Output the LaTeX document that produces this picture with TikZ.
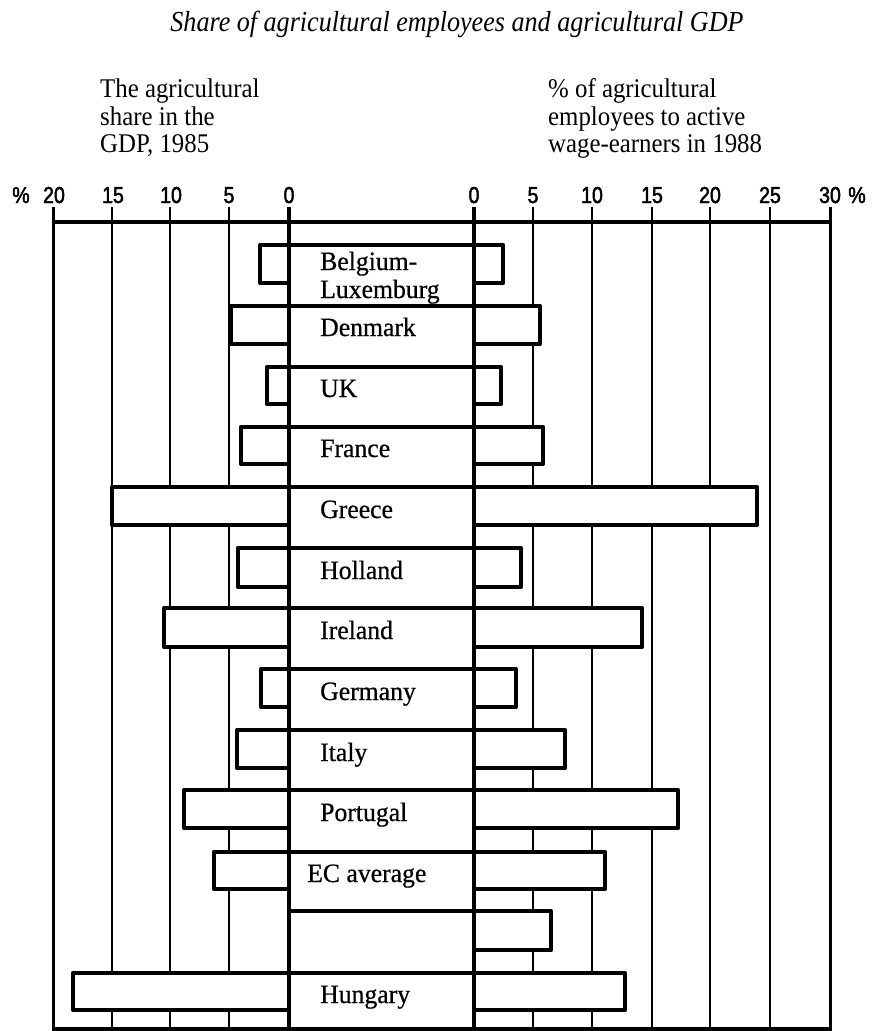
\documentclass[tikz,border=0pt]{standalone}
\usepackage{fontspec}
\setmainfont{Liberation Serif}
\newfontfamily\axisfont[FakeStretch=0.85,FakeBold=2]{Liberation Sans}
\newfontfamily\headfont[FakeStretch=0.92]{Liberation Serif}
\newfontfamily\titlefont[FakeStretch=0.9]{Liberation Serif}
\newfontfamily\labfont[FakeStretch=0.97,FakeBold=0.6]{Liberation Serif}
\begin{document}
\begin{tikzpicture}[x=1pt,y=-1pt,
  gridline/.style={line width=2pt},
  zeroline/.style={line width=4pt},
  axisline/.style={line width=4pt},
  barline/.style={line width=4.5pt,line join=round},
  ticklab/.style={anchor=base,inner sep=0pt,font=\axisfont\fontsize{23}{23}\selectfont},
  headtxt/.style={anchor=base west,inner sep=0pt,font=\headfont\fontsize{27}{27}\selectfont},
  titletxt/.style={anchor=base,inner sep=0pt,font=\titlefont\itshape\fontsize{29}{29}\selectfont},
  bartxt/.style={anchor=base west,inner sep=0pt,font=\labfont\fontsize{26.5}{26.5}\selectfont}]
\useasboundingbox (0,0) rectangle (875,1031);
% title
\node[titletxt] (title) at (457,31) {Share of agricultural employees and agricultural GDP};
% headers
\node[headtxt] (lh1) at (100,97) {The agricultural};
\node[headtxt] (lh2) at (100,125) {share in the};
\node[headtxt] (lh3) at (100,152) {GDP, 1985};
\node[headtxt] (rh1) at (548,97) {\% of agricultural};
\node[headtxt] (rh2) at (548,125) {employees to active};
\node[headtxt] (rh3) at (548,152) {wage-earners in 1988};
% axis labels
\node[ticklab] (pl) at (21,203) {\%};
\node[ticklab] (l20) at (54,203) {20};
\node[ticklab] (l15) at (113,203) {15};
\node[ticklab] (l10) at (171,203) {10};
\node[ticklab] (l5) at (229,203) {5};
\node[ticklab] (l0) at (289,203) {0};
\node[ticklab] (r0) at (474,203) {0};
\node[ticklab] (r5) at (533,203) {5};
\node[ticklab] (r10) at (592,203) {10};
\node[ticklab] (r15) at (652,203) {15};
\node[ticklab] (r20) at (710,203) {20};
\node[ticklab] (r25) at (770,203) {25};
\node[ticklab] (r30) at (830,203) {30};
\node[ticklab] (pr) at (857,203) {\%};
% grid lines
\foreach \x in {112,170,229,533,592,652,710,770} {
  \draw[gridline] (\x,207) -- (\x,1029);
}
\draw[line width=3pt] (53,207) -- (53,1030);
\draw[line width=3pt] (830,207) -- (830,1030);
\draw[axisline] (53,222) -- (830,222);
\draw[axisline] (51.5,1029) -- (831.5,1029);
% bars
\foreach \t/\b/\l/\r in {245/283/260/503, 306/344/231/540, 367/404/267/501,
  427/464/241/543, 487/525/112/757, 548/587/238/521, 608/647/164/642,
  669/707/261/516, 730/768/237/565, 790/828/184/678, 852/889/214/605,
  973/1010/73/625} {
  \fill[white] (\l,\t) rectangle (\r,\b);
  \draw[barline] (289,\b) -- (\l,\b) -- (\l,\t) -- (\r,\t) -- (\r,\b) -- (474,\b);
}
\fill[white] (289,911) rectangle (551,950);
\draw[barline] (289,911) -- (551,911) -- (551,950) -- (474,950);
% zero lines
\draw[zeroline] (289,207) -- (289,1029);
\draw[zeroline] (474,207) -- (474,1029);
% bar labels
\node[bartxt] (be1) at (320,270) {Belgium-};
\node[bartxt] (be2) at (320,298) {Luxemburg};
\node[bartxt] (dk) at (320,336) {Denmark};
\node[bartxt] (uk) at (320,397) {UK};
\node[bartxt] (fr) at (320,457) {France};
\node[bartxt] (gr) at (320,518) {Greece};
\node[bartxt] (nl) at (320,579) {Holland};
\node[bartxt] (ie) at (320,639) {Ireland};
\node[bartxt] (de) at (320,700) {Germany};
\node[bartxt] (it) at (320,761) {Italy};
\node[bartxt] (pt) at (320,821) {Portugal};
\node[bartxt] (ec) at (307,882) {EC average};
\node[bartxt] (hu) at (320,1003) {Hungary};
\end{tikzpicture}
\end{document}
